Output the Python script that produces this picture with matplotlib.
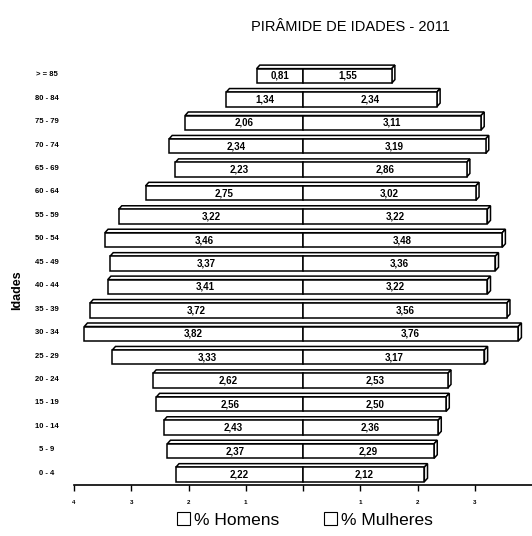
import numpy as np
import matplotlib
matplotlib.use("Agg")
import matplotlib.pyplot as plt
from matplotlib.patches import Polygon, Rectangle

plt.rcParams['font.family'] = ['Liberation Sans', 'DejaVu Sans']

# data (from bottom to top)
idades = ["0 - 4", "5 - 9", "10 - 14", "15 - 19", "20 - 24", "25 - 29", "30 - 34",
          "35 - 39", "40 - 44", "45 - 49", "50 - 54", "55 - 59", "60 - 64",
          "65 - 69", "70 - 74", "75 - 79", "80 - 84", "> = 85"]
homens = [2.22, 2.37, 2.43, 2.56, 2.62, 3.33, 3.82, 3.72, 3.41, 3.37, 3.46,
          3.22, 2.75, 2.23, 2.34, 2.06, 1.34, 0.81]
mulheres = [2.12, 2.29, 2.36, 2.50, 2.53, 3.17, 3.76, 3.56, 3.22, 3.36, 3.48,
            3.22, 3.02, 2.86, 3.19, 3.11, 2.34, 1.55]
xticks = [-4, -3, -2, -1, 0, 1, 2, 3]
xticklabels = ["4", "3", "2", "1", "", "1", "2", "3"]

fig = plt.figure(figsize=(5.32, 5.36), dpi=100)
ax = fig.add_axes([74/532, 51/536, 458/532, 422/536])

y = np.arange(len(idades))
h = 0.62
off = -0.05   # front face slightly below row centre
dx, dy = 0.055, 0.15   # 3d depth
lw = 1.1

for i in range(len(idades)):
    yb = y[i] + off - h/2
    yt = y[i] + off + h/2
    hl = -homens[i]
    mr = mulheres[i]
    # top face
    ax.add_patch(Polygon([(hl, yt), (hl + dx, yt + dy), (mr + dx, yt + dy), (mr, yt)],
                         closed=True, facecolor='white', edgecolor='black', lw=lw, zorder=2))
    # right end face
    ax.add_patch(Polygon([(mr, yb), (mr + dx, yb + dy), (mr + dx, yt + dy), (mr, yt)],
                         closed=True, facecolor='white', edgecolor='black', lw=lw, zorder=2))
    # front faces
    ax.barh(y[i] + off, hl, height=h, color='white', edgecolor='black', lw=lw, zorder=3)
    ax.barh(y[i] + off, mr, height=h, color='white', edgecolor='black', lw=lw, zorder=3)
    ax.text(hl/2, y[i] + off, f"{homens[i]:.2f}".replace(".", ","), ha='center',
            va='center', fontsize=7, fontweight='bold', zorder=4)
    ax.text(mr/2, y[i] + off, f"{mulheres[i]:.2f}".replace(".", ","), ha='center',
            va='center', fontsize=7, fontweight='bold', zorder=4)
    ax.text(-0.059, y[i], idades[i], transform=ax.get_yaxis_transform(), ha='center',
            va='center', fontsize=5.5, fontweight='bold')

ax.set_xlim(-4, 4)
ax.set_ylim(-0.5, len(idades) - 0.5)
ax.set_yticks([])
ax.set_xticks(xticks)
ax.set_xticklabels(xticklabels, fontsize=4.5, fontweight='bold')
ax.tick_params(axis='x', length=4, width=1, pad=7)
for s in ['top', 'right', 'left']:
    ax.spines[s].set_visible(False)
ax.spines['bottom'].set_linewidth(1.2)

fig.text(17/532, 1 - 290/536, "Idades", rotation=90, ha='center', va='center',
         fontsize=9, fontweight='bold')
fig.text(350/532, 1 - 27/536, "PIRÂMIDE DE IDADES - 2011", ha='center', va='center',
         fontsize=10.5)

h1 = Rectangle((0, 0), 1, 1, facecolor='white', edgecolor='black', lw=0.8)
h2 = Rectangle((0, 0), 1, 1, facecolor='white', edgecolor='black', lw=0.8)
fig.legend([h1, h2], ["% Homens", "% Mulheres"], loc='center', ncol=2,
           bbox_to_anchor=(305/532, 1 - 520/536), frameon=False, fontsize=12.5,
           handlelength=0.75, handleheight=0.75, handletextpad=0.2, columnspacing=2.6)

fig.savefig("out.png", dpi=100)
